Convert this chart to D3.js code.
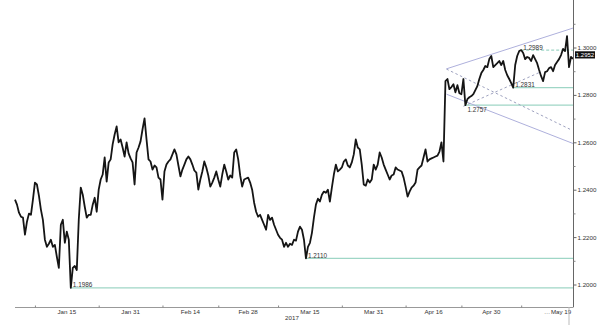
<!DOCTYPE html>
<html>
<head>
<meta charset="utf-8">
<script src="https://cdn.jsdelivr.net/npm/d3@7/dist/d3.min.js"></script>
<style>
  body { margin: 0; background: #fff; }
  svg { display: block; font-family: "Liberation Sans", Arial, sans-serif; }
</style>
</head>
<body>
<div id="chart"></div>
<script>
// GBP/USD closes, one every 12 hours from 2 Jan 2017
const startDate = new Date(2017, 0, 2);
const endDate = new Date(2017, 4, 22);
const stepHours = 12;
const prices = [
  1.2358, 1.2337, 1.2303, 1.2286, 1.2282, 1.2210, 1.2265, 1.2299, 1.2294, 1.2358,
  1.2430, 1.2422, 1.2375, 1.2316, 1.2273, 1.2189, 1.2159, 1.2172, 1.2189, 1.2159,
  1.2167, 1.2117, 1.2070, 1.2252, 1.2273, 1.2176, 1.2223, 1.2189, 1.1986, 1.2070,
  1.2078, 1.2061, 1.2273, 1.2409, 1.2379, 1.2328, 1.2282, 1.2294, 1.2294, 1.2337,
  1.2366, 1.2307, 1.2400, 1.2443, 1.2464, 1.2536, 1.2434, 1.2515, 1.2528, 1.2591,
  1.2633, 1.2667, 1.2600, 1.2612, 1.2578, 1.2540, 1.2600, 1.2553, 1.2532, 1.2515,
  1.2422, 1.2557, 1.2578, 1.2604, 1.2655, 1.2701, 1.2612, 1.2528, 1.2519, 1.2485,
  1.2502, 1.2494, 1.2451, 1.2443, 1.2358, 1.2477, 1.2506, 1.2519, 1.2528, 1.2549,
  1.2570, 1.2549, 1.2502, 1.2456, 1.2485, 1.2506, 1.2528, 1.2540, 1.2528, 1.2506,
  1.2481, 1.2472, 1.2400, 1.2443, 1.2477, 1.2519, 1.2494, 1.2460, 1.2413, 1.2430,
  1.2451, 1.2477, 1.2443, 1.2413, 1.2464, 1.2506, 1.2477, 1.2443, 1.2460, 1.2451,
  1.2557, 1.2570, 1.2528, 1.2460, 1.2413, 1.2443, 1.2447, 1.2451, 1.2430, 1.2400,
  1.2345, 1.2307, 1.2286, 1.2294, 1.2273, 1.2252, 1.2231, 1.2294, 1.2273, 1.2282,
  1.2252, 1.2231, 1.2210, 1.2197, 1.2189, 1.2159, 1.2176, 1.2159, 1.2172, 1.2167,
  1.2189, 1.2185, 1.2223, 1.2244, 1.2231, 1.2189, 1.2110, 1.2159, 1.2176, 1.2218,
  1.2282, 1.2337, 1.2362, 1.2350, 1.2379, 1.2392, 1.2387, 1.2400, 1.2350, 1.2409,
  1.2464, 1.2506, 1.2477, 1.2485, 1.2494, 1.2519, 1.2528, 1.2502, 1.2494, 1.2515,
  1.2549, 1.2612, 1.2578, 1.2570, 1.2506, 1.2422, 1.2417, 1.2443, 1.2430, 1.2443,
  1.2506, 1.2485, 1.2506, 1.2557, 1.2536, 1.2506, 1.2485, 1.2464, 1.2443, 1.2460,
  1.2464, 1.2494, 1.2485, 1.2481, 1.2477, 1.2451, 1.2413, 1.2371, 1.2392, 1.2409,
  1.2417, 1.2430, 1.2485, 1.2494, 1.2502, 1.2536, 1.2570, 1.2519, 1.2528, 1.2532,
  1.2536, 1.2540, 1.2544, 1.2561, 1.2600, 1.2519, 1.2858, 1.2867, 1.2824, 1.2833,
  1.2845, 1.2811, 1.2841, 1.2807, 1.2803, 1.2867, 1.2757, 1.2782, 1.2790, 1.2795,
  1.2803, 1.2820, 1.2837, 1.2867, 1.2892, 1.2905, 1.2922, 1.2917, 1.2951, 1.2964,
  1.2917, 1.2926, 1.2934, 1.2943, 1.2926, 1.2943, 1.2905, 1.2883, 1.2867, 1.2850,
  1.2831, 1.2926, 1.2964, 1.2985, 1.2989, 1.2977, 1.2951, 1.2960, 1.2956, 1.2943,
  1.2968, 1.2951, 1.2934, 1.2905, 1.2879, 1.2858, 1.2896, 1.2900, 1.2913, 1.2917,
  1.2900, 1.2926, 1.2939, 1.2951, 1.2968, 1.2994, 1.2985, 1.3048, 1.2917, 1.2960,
  1.2952
];

// support / resistance levels (each starts at the bar where it was set)
const levels = [1.1986, 1.2110, 1.2757, 1.2831, 1.2989];
const dashedLevel = 1.2989;
const labelBelowLevel = 1.2757;

// trend lines after the April gap: [from step, from price, to step, to price]
const channelLines = [
  [216.5, 1.2910, 280, 1.3082],
  [216.5, 1.2803, 280, 1.2595]
];
const projectionLines = [
  [216.5, 1.2909, 278.5, 1.2655],
  [225, 1.2752, 263.5, 1.2896]
];

const yTicks = [1.20, 1.22, 1.24, 1.26, 1.28, 1.30];
const yMinorTicks = [1.21, 1.23, 1.25, 1.27, 1.29, 1.31];
const xTickDates = ['2017-01-07', '2017-01-23', '2017-02-08', '2017-02-22', '2017-03-09',
                    '2017-03-25', '2017-04-10', '2017-04-24', '2017-05-09'];
const xLabels = ['Jan 15', 'Jan 31', 'Feb 14', 'Feb 28', 'Mar 15', 'Mar 31', 'Apr 16', 'Apr 30'];
const lastLabel = { date: '2017-05-19', text: 'May 19' };
const yearLabel = '2017';

const width = 600, height = 325;
const parse = d3.timeParse('%Y-%m-%d');
const stepDate = s => new Date(+startDate + s * stepHours * 36e5);

const x = d3.scaleTime().domain([startDate, endDate]).range([15, 573]);
const y = d3.scaleLinear().domain([1.2, 1.3]).range([284.5, 47.5]);
const axisY = 307;

const svg = d3.select('#chart').append('svg')
    .attr('width', width)
    .attr('height', height);

// horizontal levels
levels.forEach(lv => {
    const idx = prices.indexOf(lv);
    svg.append('line')
        .attr('x1', x(stepDate(idx))).attr('x2', x(endDate))
        .attr('y1', y(lv)).attr('y2', y(lv))
        .attr('stroke', '#9fd6c6')
        .attr('stroke-width', 1.2)
        .attr('stroke-dasharray', lv === dashedLevel ? '3,2' : null);
});

// channel + projection lines
const trend = svg.append('g').attr('fill', 'none');
trend.selectAll('.chan')
    .data(channelLines)
    .enter().append('line')
        .attr('x1', d => x(stepDate(d[0]))).attr('y1', d => y(d[1]))
        .attr('x2', d => x(stepDate(d[2]))).attr('y2', d => y(d[3]))
        .attr('stroke', '#aeb0dc')
        .attr('stroke-width', 1);
trend.selectAll('.proj')
    .data(projectionLines)
    .enter().append('line')
        .attr('x1', d => x(stepDate(d[0]))).attr('y1', d => y(d[1]))
        .attr('x2', d => x(stepDate(d[2]))).attr('y2', d => y(d[3]))
        .attr('stroke', '#9ea2bf')
        .attr('stroke-width', 1)
        .attr('stroke-dasharray', '2.5,2.5');

// price line
const line = d3.line()
    .x((d, i) => x(stepDate(i)))
    .y(d => y(d));

svg.append('path')
    .datum(prices)
    .attr('d', line)
    .attr('fill', 'none')
    .attr('stroke', '#151515')
    .attr('stroke-width', 1.8)
    .attr('stroke-linejoin', 'round');

// level labels
levels.forEach(lv => {
    const idx = prices.indexOf(lv);
    svg.append('text')
        .attr('x', x(stepDate(idx)) + 2)
        .attr('y', lv === labelBelowLevel ? y(lv) + 6.5 : y(lv) - 0.5)
        .attr('font-size', 6.4)
        .attr('fill', '#333')
        .text(d3.format('.4f')(lv));
});

// right axis
svg.append('line')
    .attr('x1', 573.5).attr('x2', 573.5)
    .attr('y1', 0).attr('y2', axisY)
    .attr('stroke', '#666');

const yAxis = svg.append('g')
    .attr('transform', 'translate(573.5,0)')
    .call(d3.axisRight(y).tickValues(yTicks).tickSize(3).tickPadding(1).tickFormat(d3.format('.4f')));
yAxis.select('.domain').remove();
yAxis.selectAll('line').attr('stroke', '#666');
yAxis.selectAll('text').attr('font-size', 6.2).attr('fill', '#333').attr('font-family', null);

const yMinor = svg.append('g')
    .attr('transform', 'translate(573.5,0)')
    .call(d3.axisRight(y).tickValues(yMinorTicks).tickSize(2).tickFormat(''));
yMinor.select('.domain').remove();
yMinor.selectAll('line').attr('stroke', '#888');

// bottom axis
svg.append('line')
    .attr('x1', 15).attr('x2', 573.5)
    .attr('y1', axisY + 0.5).attr('y2', axisY + 0.5)
    .attr('stroke', '#999');

const tickDates = xTickDates.map(parse);
const xAxis = svg.append('g')
    .attr('transform', `translate(0,${axisY + 0.5})`)
    .call(d3.axisTop(x).tickValues(tickDates).tickSize(2).tickFormat(''));
xAxis.select('.domain').remove();
xAxis.selectAll('line').attr('stroke', '#888');

const labelText = svg.append('g')
    .attr('font-size', 6.2)
    .attr('fill', '#333')
    .attr('text-anchor', 'middle');

xLabels.forEach((t, i) => {
    const mid = (x(tickDates[i]) + x(tickDates[i + 1])) / 2;
    labelText.append('text').attr('x', mid).attr('y', 314).text(t);
});
labelText.append('text')
    .attr('x', (x(tickDates[tickDates.length - 1]) + x(endDate)) / 2)
    .attr('y', 314)
    .text('\u2026');
labelText.append('text')
    .attr('x', x(parse(lastLabel.date)))
    .attr('y', 314)
    .text(lastLabel.text);
labelText.append('text')
    .attr('x', (x.range()[0] + x.range()[1]) / 2 - 2)
    .attr('y', 320)
    .text(yearLabel);

svg.append('line')
    .attr('x1', x(parse('2017-05-21'))).attr('x2', x(parse('2017-05-21')))
    .attr('y1', axisY).attr('y2', height)
    .attr('stroke', '#bbb');

// last price tag
const last = prices[prices.length - 1];
const tag = svg.append('g')
    .attr('transform', `translate(575,${y(last) - 4})`);
tag.append('rect')
    .attr('x', 0).attr('y', -3.6)
    .attr('width', 20).attr('height', 7.2)
    .attr('fill', '#111');
tag.append('text')
    .attr('x', 10).attr('y', 2.1)
    .attr('text-anchor', 'middle')
    .attr('font-size', 6)
    .attr('fill', '#fff')
    .text(d3.format('.4f')(last));
</script>
</body>
</html>
